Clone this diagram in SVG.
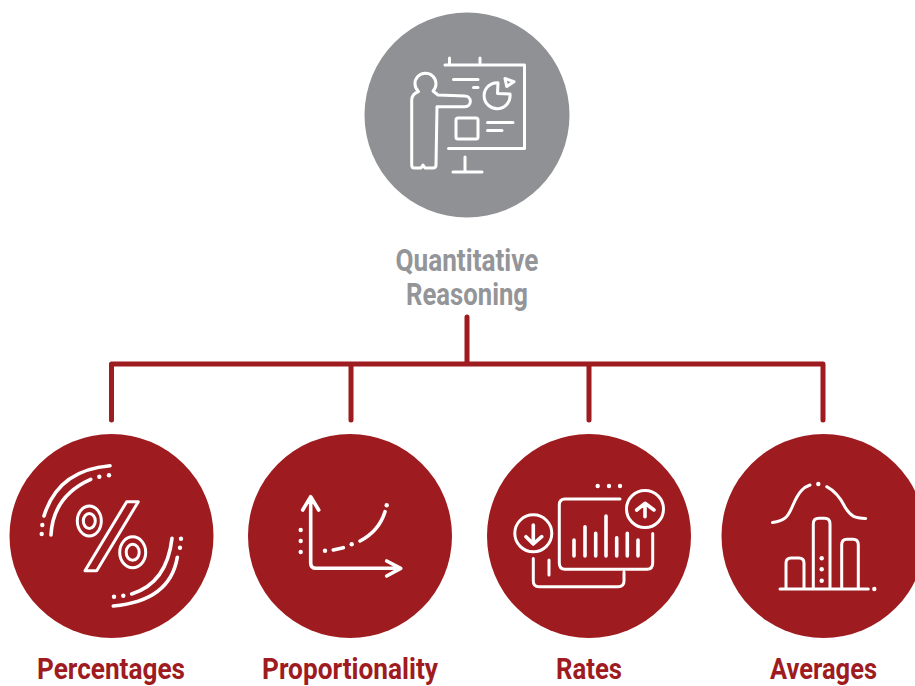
<svg xmlns="http://www.w3.org/2000/svg" width="915" height="686" viewBox="0 0 915 686">
<style>
.ic{fill:none;stroke:#fff;stroke-linecap:round;stroke-linejoin:round;stroke-width:3}
.th{stroke-width:3.6}
.dot{fill:#fff}
.red{fill:#9e1b1f}
.lab{font-family:"Roboto","Liberation Sans",sans-serif;font-weight:700;text-anchor:middle}
.rl{fill:#9e1b1f;font-size:29px}
.gl{fill:#939598;font-size:31px}
.conn{fill:none;stroke:#9e1b1f;stroke-width:5;stroke-linecap:round;stroke-linejoin:round}
</style>
<rect width="915" height="686" fill="#fff"/>
<g id="connectors">
<path class="conn" d="M467 317V364M111.500 420V364H823V420M351 420V364M589 420V364"/>
</g>
<g id="node-quantitative">
<circle cx="467" cy="115" r="102.500" fill="#8f9194"/>
<path class="ic" d="M449.500 58V65M480 58V65M445 65H524.500V148.500H448.500M465 157V172M453 172H482M453.500 79.500H478M473.500 87.500H478M487.500 122.500H513M487.500 130.500H502"/>
<path class="ic" d="M438 95L465 96A5.300 5.300 0 0 1 465 106.700H437L436 165Q436 168 433 168H425L423 165L421 168H414.500Q411.700 168 411.700 165V100Q412 94 418.500 91.500A10.500 10.500 0 1 1 433 91Z"/>
<rect class="ic" x="456" y="118" width="22" height="21" rx="2"/>
<path class="ic" d="M498 82.700A13 13 0 1 0 510 94L497.500 93.500Z"/>
<path class="ic" d="M505 78.500L514 81.700L506.700 86.500Z"/>
<text class="lab gl" x="467" y="271" textLength="143" lengthAdjust="spacingAndGlyphs">Quantitative</text>
<text class="lab gl" x="467" y="304.500" textLength="122" lengthAdjust="spacingAndGlyphs">Reasoning</text>
</g>
<g id="node-percentages">
<circle class="red" cx="111.500" cy="536" r="102"/>
<path class="ic" d="M126.700 501.700H138.300L96.700 570.700H85Z"/>
<g class="ic">
<ellipse cx="89.300" cy="521" rx="12" ry="15"/><ellipse cx="89.300" cy="521" rx="6" ry="7.500"/>
<ellipse cx="132.700" cy="552.300" rx="13" ry="15.500"/><ellipse cx="132.700" cy="552.300" rx="6.500" ry="8"/>
</g>
<path class="ic th" d="M44 516Q58 470 110 465.700M51 535Q53 496 90.700 479.300M113.300 606Q170 601 177.300 557.300M131.700 594Q167 583 172 538.300"/>
<g class="dot"><circle cx="41.700" cy="534" r="2.200"/><circle cx="42.300" cy="525" r="2.200"/><circle cx="99.300" cy="476.700" r="2.200"/><circle cx="109" cy="475.300" r="2.200"/><circle cx="114" cy="596.700" r="2.200"/><circle cx="123.300" cy="595.700" r="2.200"/><circle cx="180" cy="547.700" r="2.200"/><circle cx="181" cy="538.700" r="2.200"/></g>
<text class="lab rl" x="111" y="679" textLength="148" lengthAdjust="spacingAndGlyphs">Percentages</text>
</g>
<g id="node-proportionality">
<circle class="red" cx="350" cy="536" r="102"/>
<path class="ic th" d="M310.700 497V563Q310.700 568.300 316 568.300H400M302.700 510L310.700 496.700L318.700 510M386.700 561L400.700 568.300L386.700 576M333.300 550L343.300 547.700M360 541Q379 531 385 511.700"/>
<g class="dot"><circle cx="300.700" cy="530" r="2.200"/><circle cx="300.700" cy="541" r="2.200"/><circle cx="300.700" cy="552" r="2.200"/><circle cx="325" cy="550.700" r="2.200"/><circle cx="351.700" cy="544.300" r="2.200"/><circle cx="386.700" cy="505.300" r="2.200"/></g>
<text class="lab rl" x="350" y="679" textLength="176" lengthAdjust="spacingAndGlyphs">Proportionality</text>
</g>
<g id="node-rates">
<circle class="red" cx="589" cy="536" r="102"/>
<path class="ic" d="M620 499H565Q559.300 499 559.300 505V563Q559.300 569.300 565 569.300H647Q652.700 569.300 652.700 563V533.500M533.300 558.500V581Q533.300 586.700 539 586.700H618Q624 586.700 624 581V572M549 560V575"/>
<circle class="ic" cx="645" cy="509" r="18.500"/><circle class="ic" cx="533.300" cy="533.300" r="18.500"/>
<path class="ic th" d="M645 516.700V503.500M636.700 510L645 503.300L654 510M533.300 525V544M526 536.700L533.300 544L541.700 536.700M574 540V556M585 526.700V556M595.700 533.300V556M606 516V556M616.700 537.700V556M627.300 533.300V556M638 540V556"/>
<g class="dot"><circle cx="597.700" cy="486" r="2.200"/><circle cx="609" cy="486" r="2.200"/><circle cx="620" cy="486" r="2.200"/></g>
<text class="lab rl" x="589" y="679" textLength="66" lengthAdjust="spacingAndGlyphs">Rates</text>
</g>
<g id="node-averages">
<circle class="red" cx="823.500" cy="536" r="102"/>
<path class="ic" d="M772.500 522.500C785 521 788 517 793 505C799 491 804 487 810 485M826.700 486.700C835 491 840 497 845 507C851 517 855 518 865.700 518.500M780 589H868.300M786 589V563Q786 558 791 558H799Q804 558 804 563V589M813.300 589V524Q813.300 518.300 819 518.300H824.500Q830 518.300 830 524V589M841.700 589V545Q841.700 539.300 847 539.300H853Q858.300 539.300 858.300 545V589"/>
<g class="dot"><circle cx="818.300" cy="484" r="2.200"/><circle cx="821.700" cy="558.300" r="2.200"/><circle cx="821.700" cy="569.300" r="2.200"/><circle cx="821.700" cy="580.700" r="2.200"/><circle cx="874.300" cy="589" r="2.200"/></g>
<text class="lab rl" x="823.500" y="679" textLength="107" lengthAdjust="spacingAndGlyphs">Averages</text>
</g>
</svg>
